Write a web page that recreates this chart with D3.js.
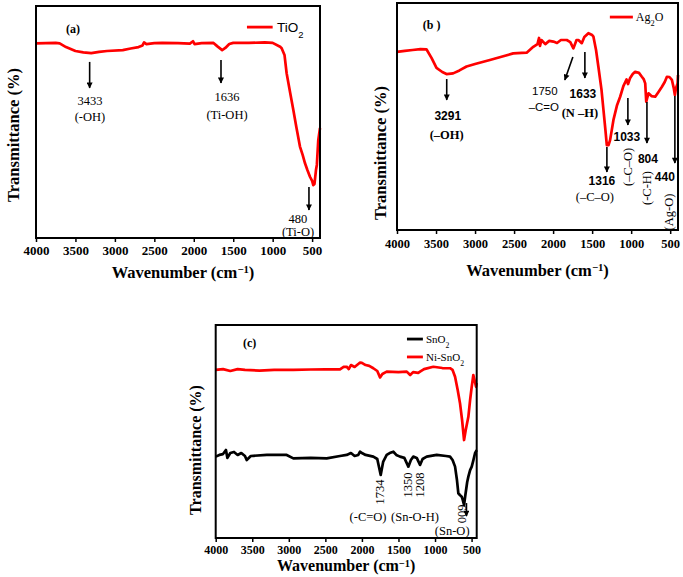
<!DOCTYPE html>
<html>
<head>
<meta charset="utf-8">
<script src="https://cdn.jsdelivr.net/npm/d3@7"></script>
<style>
  body { margin: 0; background: #fff; }
  svg { display: block; }
  .tick text { font-family: 'Liberation Serif', serif; font-weight: bold; }
  .serif { font-family: 'Liberation Serif', serif; }
  .sans { font-family: 'Liberation Sans', Arial, sans-serif; }
</style>
</head>
<body>
<div id="chart"></div>
<script>
// ── Data: [wavenumber, transmittance (arb.)] ──────────────
const tio2 = [
  [4000, 83.9], [3750, 84.1], [3700, 83.9], [3620, 82.3], [3500, 80.6], [3400, 80.0], [3300, 79.7],
  [3200, 80.2], [3100, 80.6], [2900, 81.0], [2800, 81.7], [2700, 82.3], [2650, 83.0], [2630, 84.3],
  [2600, 83.6], [2500, 84.0], [2400, 84.1], [2200, 84.0], [2050, 83.8], [2010, 84.8], [1990, 83.6],
  [1900, 84.0], [1750, 84.1], [1700, 82.6], [1640, 81.0], [1600, 81.9], [1550, 83.6], [1500, 84.1],
  [1300, 84.1], [1100, 84.3], [1000, 84.1], [900, 82.3], [886, 81.8], [850, 78.9], [823, 71.0],
  [780, 62.9], [738, 55.2], [700, 47.8], [654, 39.4], [620, 35.8], [590, 32.2], [560, 29.3],
  [527, 26.4], [500, 24.6], [485, 22.8], [470, 23.3], [451, 29.3], [440, 31.5], [422, 42.2], [400, 47.4]
];

const ag2o = [
  [4000, 78.5], [3900, 78.9], [3800, 79.3], [3700, 79.7], [3623, 79.6], [3558, 75.8], [3494, 71.4],
  [3420, 69.6], [3366, 68.7], [3281, 69.0], [3200, 70.3], [3109, 72.0], [3000, 73.1], [2810, 74.9],
  [2650, 76.4], [2511, 77.8], [2400, 78.0], [2339, 78.1], [2254, 80.7], [2200, 81.9], [2180, 84.6],
  [2168, 81.1], [2150, 83.7], [2100, 81.9], [2050, 83.3], [1997, 83.0], [1950, 82.4], [1900, 83.7],
  [1825, 83.7], [1780, 82.8], [1740, 80.0], [1700, 83.7], [1676, 83.7], [1633, 82.3], [1600, 85.0],
  [1548, 86.7], [1500, 85.9], [1484, 85.2], [1450, 79.3], [1420, 71.9], [1380, 61.7], [1355, 52.9],
  [1330, 44.1], [1312, 37.4], [1290, 37.4], [1270, 39.6], [1227, 48.5], [1180, 55.1], [1141, 58.7],
  [1100, 63.4], [1060, 66.3], [1040, 64.3], [1013, 67.0], [980, 68.7], [949, 69.7], [900, 69.2],
  [863, 67.5], [840, 66.5], [820, 64.6], [807, 56.5], [795, 58.1], [778, 60.2], [740, 59.0],
  [692, 58.7], [650, 60.8], [606, 63.1], [570, 65.2], [542, 67.5], [510, 67.4], [478, 66.1],
  [455, 62.6], [440, 59.5], [425, 62.6], [405, 64.6], [400, 68.3]
];

const niSnO2 = [
  [4000, 78.9], [3900, 79.3], [3800, 78.4], [3700, 79.3], [3600, 78.9], [3400, 78.6], [3200, 78.9],
  [2938, 78.9], [2700, 79.1], [2500, 79.2], [2300, 79.2], [2250, 80.3], [2208, 80.4], [2180, 79.3],
  [2150, 81.2], [2100, 80.3], [2050, 81.7], [2026, 82.3], [2000, 82.2], [1950, 81.2], [1900, 80.8],
  [1844, 79.7], [1790, 78.4], [1752, 75.4], [1720, 77.0], [1661, 78.1], [1500, 77.9], [1387, 78.1],
  [1340, 76.5], [1300, 77.9], [1230, 77.5], [1205, 78.1], [1150, 79.3], [1023, 80.4], [900, 79.8],
  [795, 79.7], [760, 78.9], [726, 75.7], [690, 69.5], [658, 63.2], [630, 55.4], [603, 46.0],
  [580, 50.7], [544, 56.9], [520, 64.8], [498, 71.0], [476, 76.5], [460, 74.2], [439, 71.0], [430, 72.8]
];

const snO2 = [
  [4000, 38.2], [3950, 39.0], [3900, 39.4], [3860, 41.3], [3840, 37.6], [3800, 39.9], [3750, 40.4],
  [3700, 39.0], [3650, 39.9], [3600, 38.5], [3576, 36.6], [3520, 38.5], [3485, 38.6], [3300, 39.0],
  [3029, 39.0], [2938, 37.4], [2700, 37.6], [2482, 37.4], [2300, 38.5], [2208, 39.0], [2150, 39.9],
  [2100, 38.5], [2050, 39.0], [2026, 40.5], [2000, 39.9], [1950, 39.0], [1844, 38.2], [1790, 37.1],
  [1743, 29.6], [1710, 35.7], [1661, 39.0], [1620, 39.9], [1570, 40.5], [1530, 39.0], [1479, 38.2],
  [1420, 37.6], [1365, 33.5], [1330, 36.6], [1297, 38.2], [1250, 37.6], [1205, 34.3], [1170, 37.1],
  [1114, 38.2], [977, 39.0], [850, 38.5], [795, 38.2], [760, 36.6], [726, 33.5], [700, 27.2],
  [681, 21.0], [660, 20.2], [635, 19.4], [620, 17.8], [603, 15.5], [585, 20.2], [560, 26.3],
  [544, 28.8], [520, 31.9], [498, 33.5], [475, 36.6], [453, 39.8], [430, 41.3]
];

const xTicks = [4000, 3500, 3000, 2500, 2000, 1500, 1000, 500];

// arrows: [wn1, v1, wn2, v2]
const arrowsA = [[3320, 75.9, 3320, 64.7], [1655, 76.7, 1655, 66.8], [540, 22.0, 540, 12.1]];
const labelsA = [
  { x: 3316, y: 57.3, t: '3433' }, { x: 3316, y: 50.4, t: '(-OH)' },
  { x: 1579, y: 59.1, t: '1636' }, { x: 1579, y: 51.3, t: '(Ti-OH)' },
  { x: 679, y: 6.5, t: '480' }, { x: 679, y: 0.9, t: '(Ti-O)' }
];

const arrowsB = [
  [3363, 66.5, 3363, 57.3], [1747, 76.2, 1850, 66.1], [1593, 78.4, 1593, 67.0],
  [1311, 36.6, 1311, 25.6], [1042, 58.1, 1042, 46.3], [798, 56.4, 798, 38.3], [440, 59.0, 440, 29.5]
];
const labelsB = [
  { x: 3350, y: 48.5, t: '3291', f: 'sansb' }, { x: 3363, y: 40.1, t: '(–OH)', f: 'serifb' },
  { x: 2106, y: 59.5, t: '1750', f: 'sans' }, { x: 2119, y: 52.4, t: '–C=O', f: 'sans' },
  { x: 1618, y: 58.1, t: '1633', f: 'sansb' }, { x: 1657, y: 49.8, t: '(N –H)', f: 'serifb' },
  { x: 1375, y: 19.8, t: '1316', f: 'sansb' }, { x: 1465, y: 12.8, t: '(–C–O)', f: 'serif' },
  { x: 1055, y: 39.2, t: '1033', f: 'sansb' }, { x: 1042, y: 27.8, t: '(–C–O)', f: 'serif', r: -90 },
  { x: 785, y: 29.5, t: '804', f: 'sansb' }, { x: 798, y: 18.5, t: '(-C-H)', f: 'serif', r: -90 },
  { x: 568, y: 21.6, t: '440', f: 'sansb' }, { x: 517, y: 7.9, t: '(Ag-O)', f: 'serif', r: -90 }
];

const arrowsC = [[570, 16.4, 570, 10.3]];
const labelsC = [
  { x: 1754, y: 21.6, t: '1734', r: -90 }, { x: 1371, y: 24.9, t: '1350', r: -90 },
  { x: 1207, y: 24.9, t: '1208', r: -90 }, { x: 632, y: 11.3, t: '600', r: 90 },
  { x: 1916, y: 8.0, t: '(-C=O)' }, { x: 1274, y: 8.0, t: '(Sn-O-H)' }, { x: 765, y: 1.4, t: '(Sn-O)' }
];

const W = 683, H = 577;
const svg = d3.select('#chart').append('svg').attr('width', W).attr('height', H);

svg.append('defs').append('marker')
  .attr('id', 'ahead').attr('viewBox', '0 0 10 10').attr('refX', 9).attr('refY', 5)
  .attr('markerWidth', 7).attr('markerHeight', 6).attr('markerUnits', 'userSpaceOnUse')
  .attr('orient', 'auto')
  .append('path').attr('d', 'M0,0 L10,5 L0,10 Z').attr('fill', '#000');

function fontFor(f) {
  if (f === 'sansb') return { fam: "'Liberation Sans', Arial, sans-serif", w: 'bold', s: 12 };
  if (f === 'sans') return { fam: "'Liberation Sans', Arial, sans-serif", w: 'normal', s: 11.5 };
  if (f === 'serifb') return { fam: "'Liberation Serif', serif", w: 'bold', s: 12.5 };
  return { fam: "'Liberation Serif', serif", w: 'normal', s: 12.5 };
}

function panel(cfg) {
  const x = d3.scaleLinear().domain(cfg.xDomain).range([cfg.left, cfg.right]);
  const y = d3.scaleLinear().domain([0, 100]).range([cfg.bottom, cfg.top]);
  const g = svg.append('g');

  // series
  const line = d3.line().x(d => x(d[0])).y(d => y(d[1]));
  cfg.series.forEach(s => {
    g.append('path').datum(s.data)
      .attr('fill', 'none').attr('stroke', s.color).attr('stroke-width', 2.7)
      .attr('stroke-linejoin', 'round').attr('d', line);
  });

  // frame
  g.append('rect')
    .attr('x', cfg.left).attr('y', cfg.top)
    .attr('width', cfg.right - cfg.left).attr('height', cfg.bottom - cfg.top)
    .attr('fill', 'none').attr('stroke', '#000').attr('stroke-width', 2);

  // x axis
  const ax = g.append('g').attr('transform', `translate(0,${cfg.bottom})`)
    .call(d3.axisBottom(x).tickValues(xTicks).tickFormat(d3.format('d'))
      .tickSize(4).tickPadding(cfg.tickPad).tickSizeOuter(0));
  ax.select('.domain').remove();
  ax.selectAll('.tick line').attr('stroke-width', 1.5);
  ax.selectAll('.tick text').attr('font-size', cfg.tickFont).attr('fill', '#000');

  // axis titles
  const xt = g.append('text').attr('class', 'serif')
    .attr('x', (cfg.left + cfg.right) / 2 + cfg.xTitleDx).attr('y', cfg.xTitleY)
    .attr('text-anchor', 'middle').attr('font-weight', 'bold').attr('font-size', cfg.titleFont);
  xt.append('tspan').text('Wavenumber (cm');
  xt.append('tspan').attr('font-size', cfg.titleFont * 0.65).attr('baseline-shift', '45%').text('−1');
  xt.append('tspan').text(')');

  g.append('text').attr('class', 'serif')
    .attr('transform', `translate(${cfg.yTitleX},${cfg.yTitleY}) rotate(-90)`)
    .attr('text-anchor', 'middle').attr('font-weight', 'bold').attr('font-size', cfg.titleFont)
    .text('Transmittance (%)');

  // panel tag
  g.append('text').attr('class', 'serif').attr('font-weight', 'bold').attr('font-size', 12)
    .attr('x', x(cfg.tag.x)).attr('y', y(cfg.tag.y)).text(cfg.tag.t);

  // legend
  cfg.legend.forEach(l => {
    g.append('line')
      .attr('x1', x(l.x1)).attr('x2', x(l.x2)).attr('y1', y(l.y)).attr('y2', y(l.y))
      .attr('stroke', l.color).attr('stroke-width', 2.8);
    const t = g.append('text').attr('x', x(l.tx)).attr('y', y(l.ty))
      .attr('font-family', l.font).attr('font-size', l.size);
    l.parts.forEach(p => {
      const ts = t.append('tspan').text(p[0]);
      if (p[1]) ts.attr('baseline-shift', 'sub').attr('font-size', l.size * 0.7);
    });
  });

  // arrows
  cfg.arrows.forEach(a => {
    g.append('line')
      .attr('x1', x(a[0])).attr('y1', y(a[1])).attr('x2', x(a[2])).attr('y2', y(a[3]))
      .attr('stroke', '#000').attr('stroke-width', 1.6).attr('marker-end', 'url(#ahead)');
  });

  // labels
  cfg.labels.forEach(l => {
    const f = fontFor(l.f || cfg.labelFont);
    const px = x(l.x), py = y(l.y);
    const t = g.append('text').attr('font-family', f.fam).attr('font-weight', f.w)
      .attr('font-size', f.s).attr('text-anchor', 'middle').text(l.t);
    if (l.r) t.attr('dominant-baseline', 'central').attr('transform', `translate(${px},${py}) rotate(${l.r})`);
    else t.attr('x', px).attr('y', py);
  });
}

panel({
  left: 36, right: 320, top: 6, bottom: 238, xDomain: [4000, 400],
  series: [{ data: tio2, color: '#ff0000' }],
  tickFont: 13, tickPad: 4, titleFont: 16.5, xTitleDx: 5, xTitleY: 278, yTitleX: 19, yTitleY: 135,
  tag: { x: 3620, y: 88.4, t: '(a)' },
  legend: [{ x1: 1326, x2: 1000, y: 90.9, tx: 946, ty: 88.8, color: '#ff0000',
    font: "'Liberation Sans', Arial, sans-serif", size: 13.5, parts: [['TiO'], ['2', true]] }],
  arrows: arrowsA, labels: labelsA, labelFont: 'serif'
});

panel({
  left: 397, right: 678, top: 3, bottom: 230, xDomain: [4000, 400],
  series: [{ data: ag2o, color: '#ff0000' }],
  tickFont: 12.5, tickPad: 5, titleFont: 16.5, xTitleDx: 0, xTitleY: 276, yTitleX: 386, yTitleY: 153,
  tag: { x: 3670, y: 88.5, t: '(b )' },
  legend: [{ x1: 1273, x2: 978, y: 93.8, tx: 940, ty: 92.1, color: '#ff0000',
    font: "'Liberation Serif', serif", size: 12, parts: [['Ag'], ['2', true], ['O']] }],
  arrows: arrowsB, labels: labelsB, labelFont: 'serif'
});

panel({
  left: 215.7, right: 476.7, top: 325, bottom: 538, xDomain: [4000, 430],
  series: [{ data: niSnO2, color: '#ff0000' }, { data: snO2, color: '#000000' }],
  tickFont: 12, tickPad: 3, titleFont: 16, xTitleDx: 0, xTitleY: 571, yTitleX: 201, yTitleY: 450,
  tag: { x: 3627, y: 89.7, t: '(c)' },
  legend: [
    { x1: 1384, x2: 1166, y: 93.4, tx: 1124, ty: 91.5, color: '#000000',
      font: "'Liberation Serif', serif", size: 11, parts: [['SnO'], ['2', true]] },
    { x1: 1384, x2: 1166, y: 85.0, tx: 1124, ty: 83.1, color: '#ff0000',
      font: "'Liberation Serif', serif", size: 11, parts: [['Ni-SnO'], ['2', true]] }
  ],
  arrows: arrowsC, labels: labelsC, labelFont: 'serif'
});
</script>
</body>
</html>
